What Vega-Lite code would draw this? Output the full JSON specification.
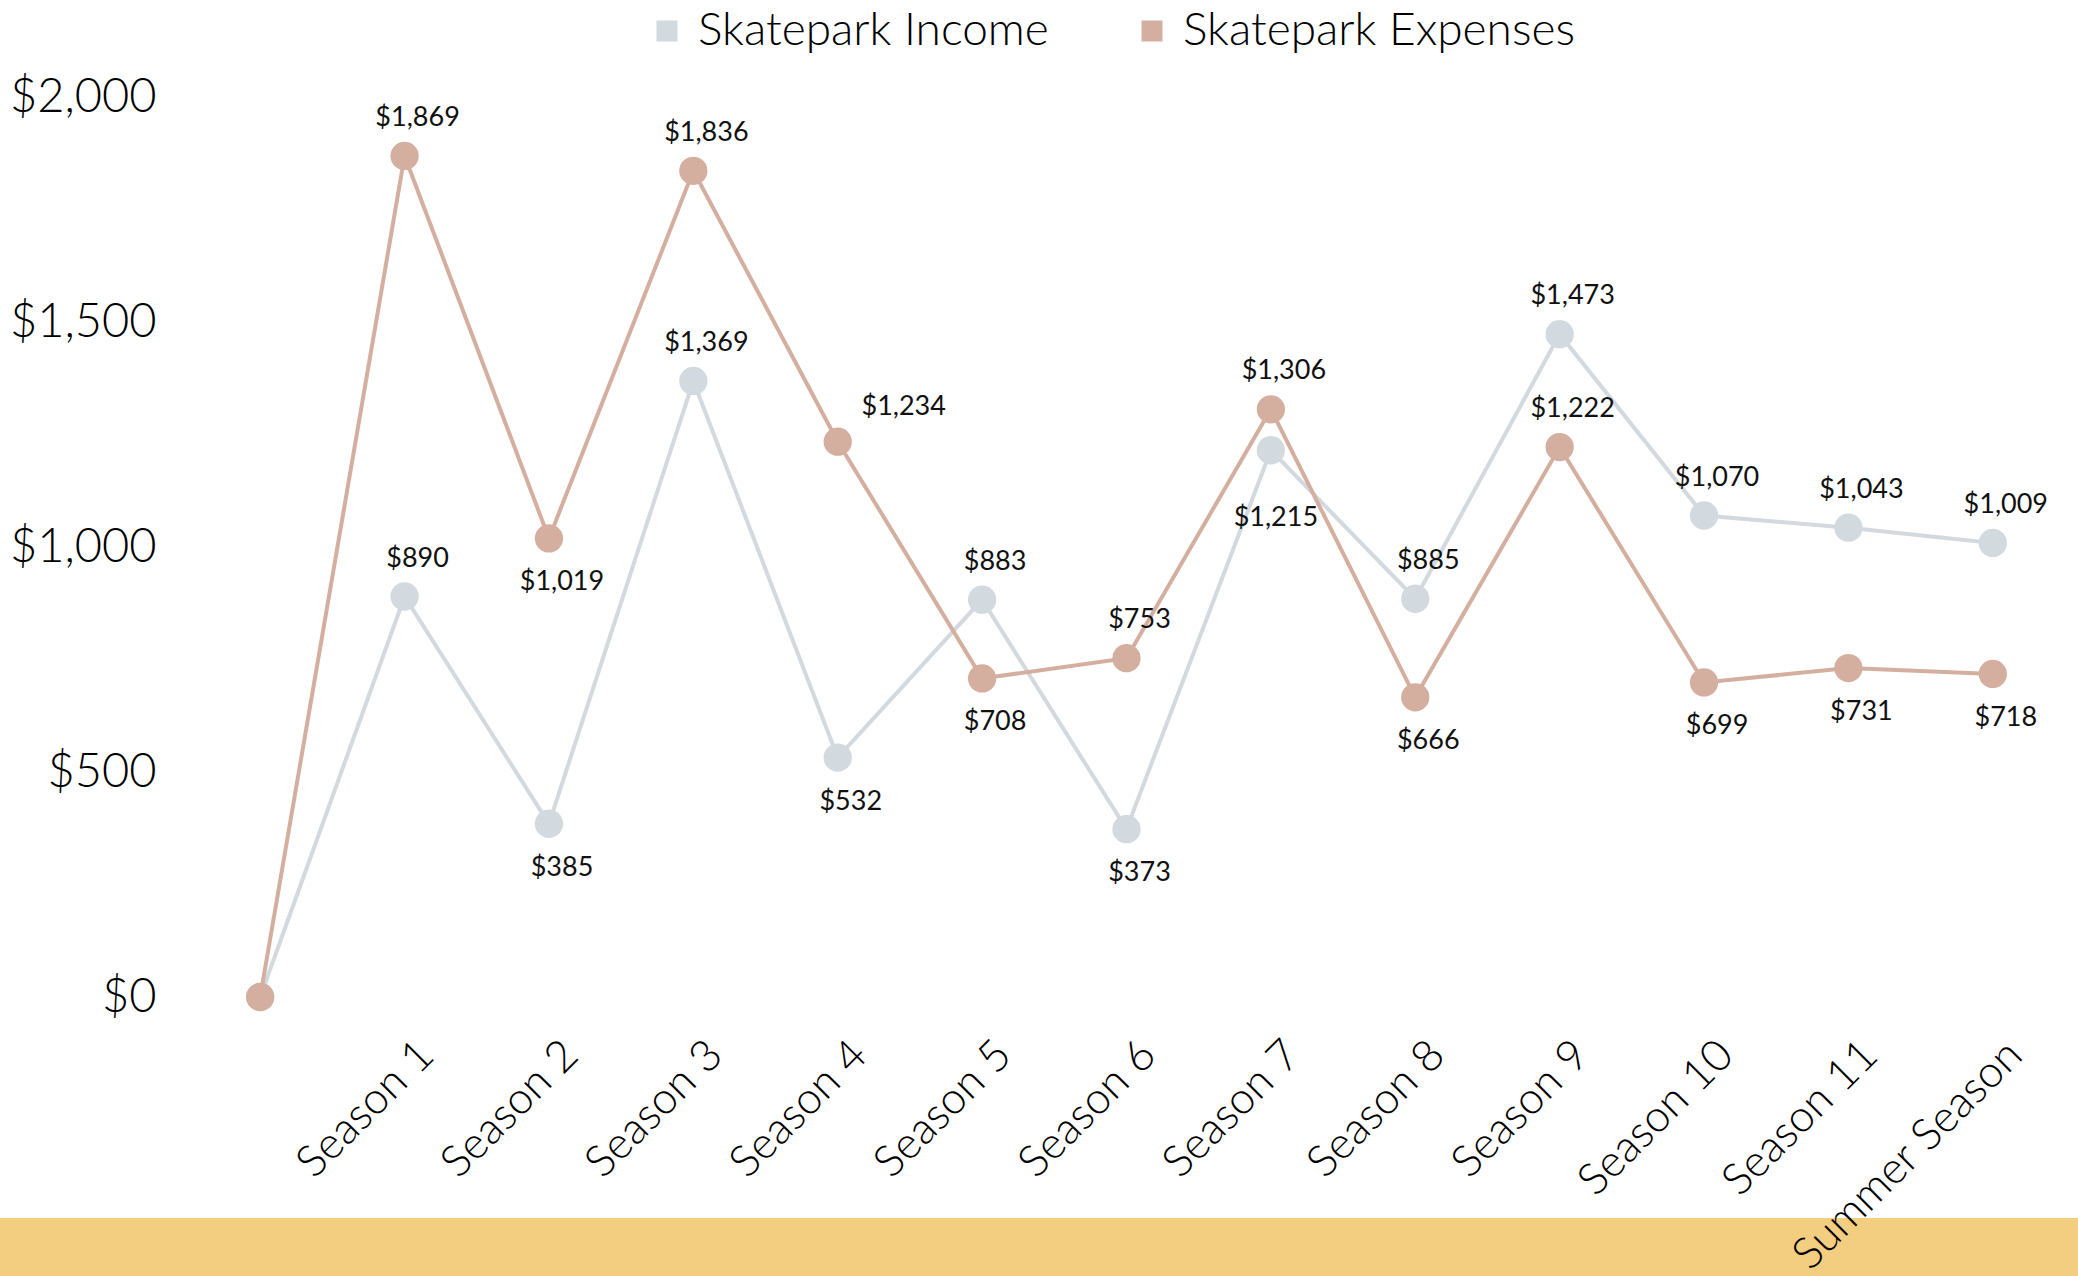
{
  "$schema": "https://vega.github.io/schema/vega-lite/v6.json",
  "width": 1877,
  "height": 900,
  "padding": 0,
  "background": "white",
  "config": {"view": {"stroke": null}, "font": "Lato"},
  "data": {"values": [
    {"season": " ", "series": "Skatepark Income", "amount": 0},
    {"season": "Season 1", "series": "Skatepark Income", "amount": 890},
    {"season": "Season 2", "series": "Skatepark Income", "amount": 385},
    {"season": "Season 3", "series": "Skatepark Income", "amount": 1369},
    {"season": "Season 4", "series": "Skatepark Income", "amount": 532},
    {"season": "Season 5", "series": "Skatepark Income", "amount": 883},
    {"season": "Season 6", "series": "Skatepark Income", "amount": 373},
    {"season": "Season 7", "series": "Skatepark Income", "amount": 1215},
    {"season": "Season 8", "series": "Skatepark Income", "amount": 885},
    {"season": "Season 9", "series": "Skatepark Income", "amount": 1473},
    {"season": "Season 10", "series": "Skatepark Income", "amount": 1070},
    {"season": "Season 11", "series": "Skatepark Income", "amount": 1043},
    {"season": "Summer Season", "series": "Skatepark Income", "amount": 1009},
    {"season": " ", "series": "Skatepark Expenses", "amount": 0},
    {"season": "Season 1", "series": "Skatepark Expenses", "amount": 1869},
    {"season": "Season 2", "series": "Skatepark Expenses", "amount": 1019},
    {"season": "Season 3", "series": "Skatepark Expenses", "amount": 1836},
    {"season": "Season 4", "series": "Skatepark Expenses", "amount": 1234},
    {"season": "Season 5", "series": "Skatepark Expenses", "amount": 708},
    {"season": "Season 6", "series": "Skatepark Expenses", "amount": 753},
    {"season": "Season 7", "series": "Skatepark Expenses", "amount": 1306},
    {"season": "Season 8", "series": "Skatepark Expenses", "amount": 666},
    {"season": "Season 9", "series": "Skatepark Expenses", "amount": 1222},
    {"season": "Season 10", "series": "Skatepark Expenses", "amount": 699},
    {"season": "Season 11", "series": "Skatepark Expenses", "amount": 731},
    {"season": "Summer Season", "series": "Skatepark Expenses", "amount": 718}
  ]},
  "layer": [
    {
      "data": {"values": [{"band": "footer"}]},
      "mark": {"type": "rect", "color": "#f3cd80"},
      "encoding": {
        "x": {"datum": 0, "type": "quantitative", "scale": {"domain": [0, 1], "range": [-188, 1890]}, "axis": null},
        "x2": {"datum": 1},
        "y": {"datum": -491, "type": "quantitative", "scale": {"domain": [0, 2000]}},
        "y2": {"datum": -620}
      }
    },
    {
      "encoding": {
        "x": {
          "field": "season", "type": "nominal",
          "scale": {"type": "point", "padding": 0.5, "domain": [" ", "Season 1", "Season 2", "Season 3", "Season 4", "Season 5", "Season 6", "Season 7", "Season 8", "Season 9", "Season 10", "Season 11", "Summer Season"]},
          "axis": {
            "title": null, "labelAngle": -45, "labelAlign": "right", "labelBaseline": "middle",
            "labelFontSize": 44, "labelFont": "Lato", "labelFontWeight": 300, "labelColor": "#000", "labelLimit": 0,
            "ticks": false, "domain": false, "grid": false, "labelPadding": 51, "labelOffset": 22, "zindex": 1
          }
        },
        "y": {
          "field": "amount", "type": "quantitative",
          "scale": {"domain": [0, 2000]},
          "axis": {
            "title": null, "values": [0, 500, 1000, 1500, 2000], "format": "$,.0f",
            "labelFontSize": 47, "labelFont": "Lato", "labelFontWeight": 300, "labelColor": "#000",
            "labelPadding": 32, "ticks": false, "domain": false,
            "gridColor": {"condition": {"test": "datum.value === 0", "value": "#8a8a8a"}, "value": "#c8c8c8"},
            "gridWidth": 2
          }
        },
        "color": {
          "field": "series", "type": "nominal",
          "scale": {"domain": ["Skatepark Income", "Skatepark Expenses"], "range": ["#d2d9df", "#d4afa0"]},
          "legend": {
            "orient": "none", "legendX": 448, "legendY": -97, "direction": "horizontal",
            "title": null, "symbolType": "square", "symbolSize": 441, "symbolStrokeWidth": 0, "symbolOpacity": 1,
            "labelFontSize": 46, "labelFont": "Lato", "labelFontWeight": 300, "labelColor": "#000", "labelLimit": 0,
            "columnPadding": 80, "labelOffset": 8, "padding": 8
          }
        }
      },
      "layer": [
        {
          "mark": {"type": "line", "strokeWidth": 4}
        },
        {
          "mark": {"type": "point", "filled": true, "size": 800, "opacity": 1}
        },
        {
          "transform": [{"filter": "(datum.series === 'Skatepark Income' && indexof(['Season 1','Season 3','Season 5','Season 8','Season 9','Season 10','Season 11','Summer Season'], datum.season) >= 0) || (datum.series === 'Skatepark Expenses' && indexof(['Season 1','Season 3','Season 6','Season 7','Season 9'], datum.season) >= 0)"}],
          "mark": {"type": "text", "font": "Lato", "fontSize": 27, "dx": 13, "dy": -38, "baseline": "middle"},
          "encoding": {"text": {"field": "amount", "type": "quantitative", "format": "$,.0f"}, "color": {"value": "#111"}}
        },
        {
          "transform": [{"filter": "(datum.series === 'Skatepark Income' && indexof(['Season 2','Season 4','Season 6'], datum.season) >= 0) || (datum.series === 'Skatepark Expenses' && indexof(['Season 2','Season 5','Season 8','Season 10','Season 11','Summer Season'], datum.season) >= 0)"}],
          "mark": {"type": "text", "font": "Lato", "fontSize": 27, "dx": 13, "dy": 44, "baseline": "middle"},
          "encoding": {"text": {"field": "amount", "type": "quantitative", "format": "$,.0f"}, "color": {"value": "#111"}}
        },
        {
          "transform": [{"filter": "datum.series === 'Skatepark Expenses' && datum.season === 'Season 4'"}],
          "mark": {"type": "text", "font": "Lato", "fontSize": 27, "dx": 66, "dy": -35, "baseline": "middle"},
          "encoding": {"text": {"field": "amount", "type": "quantitative", "format": "$,.0f"}, "color": {"value": "#111"}}
        },
        {
          "transform": [{"filter": "datum.series === 'Skatepark Income' && datum.season === 'Season 7'"}],
          "mark": {"type": "text", "font": "Lato", "fontSize": 27, "dx": 5, "dy": 68, "baseline": "middle"},
          "encoding": {"text": {"field": "amount", "type": "quantitative", "format": "$,.0f"}, "color": {"value": "#111"}}
        }
      ]
    }
  ],
  "resolve": {"scale": {"x": "independent"}}
}
